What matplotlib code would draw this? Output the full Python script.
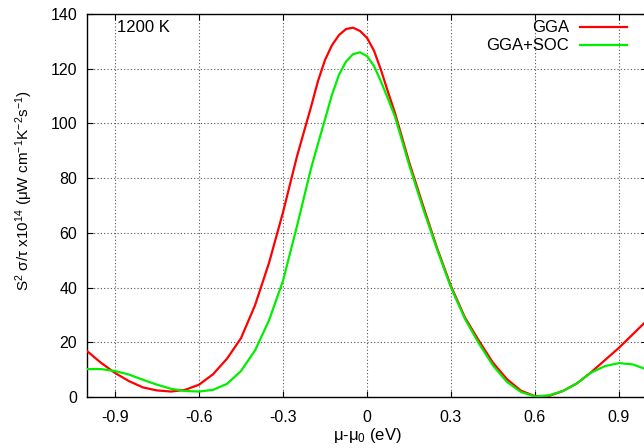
import matplotlib
matplotlib.use("Agg")
import matplotlib.pyplot as plt

plt.rcParams['font.family'] = ['Liberation Sans', 'DejaVu Sans']
plt.rcParams['mathtext.fontset'] = 'custom'
plt.rcParams['mathtext.rm'] = 'Liberation Sans'
plt.rcParams['mathtext.it'] = 'Liberation Sans:italic'
plt.rcParams['mathtext.bf'] = 'Liberation Sans:bold'

# chemical potential (eV)
mu = [-1.00, -0.95, -0.90, -0.85, -0.80, -0.75, -0.70, -0.65, -0.60, -0.55,
      -0.50, -0.45, -0.40, -0.35, -0.30, -0.25, -0.20, -0.175, -0.15, -0.125,
      -0.10, -0.075, -0.05, -0.025, 0.00, 0.025, 0.05, 0.075, 0.10, 0.15,
      0.20, 0.25, 0.30, 0.35, 0.40, 0.45, 0.50, 0.55, 0.60, 0.65,
      0.70, 0.75, 0.80, 0.85, 0.90, 0.95, 1.00]

gga = [16.8, 12.5, 8.8, 5.8, 3.5, 2.4, 2.0, 2.6, 4.5, 8.3,
       14.0, 21.5, 33.5, 49.0, 67.5, 88.0, 106.0, 115.5, 123.2, 128.6,
       132.3, 134.5, 135.0, 133.8, 131.3, 126.6, 119.5, 111.5, 103.8, 86.0,
       70.0, 54.5, 40.5, 29.0, 20.5, 12.5, 6.5, 2.3, 0.3, 0.4,
       2.2, 5.0, 9.0, 13.5, 18.0, 23.0, 28.0]

gga_soc = [10.2, 10.2, 9.5, 8.2, 6.3, 4.5, 3.0, 2.2, 2.0, 2.6,
           4.8, 9.5, 17.0, 28.0, 42.5, 62.5, 83.5, 92.6, 101.5, 110.5,
           117.8, 122.6, 125.3, 126.0, 124.6, 121.0, 115.3, 109.0, 102.5, 85.0,
           69.0, 54.0, 40.0, 28.5, 19.5, 11.5, 5.5, 1.8, 0.2, 0.6,
           2.2, 5.0, 8.9, 11.3, 12.4, 11.9, 10.0]

xticks = [-0.9, -0.6, -0.3, 0.0, 0.3, 0.6, 0.9]
xticklabels = ['-0.9', '-0.6', '-0.3', '0', '0.3', '0.6', '0.9']
yticks = [0, 20, 40, 60, 80, 100, 120, 140]

fs = 12
W, H = 644, 448
fig = plt.figure(figsize=(W/100, H/100), dpi=100)
ax = fig.add_axes([87/W, 1-397/H, 560/W, (397-14)/H])

ax.plot(mu, gga, color='#ff0000', lw=1.6, label='GGA', zorder=3)
ax.plot(mu, gga_soc, color='#00ee00', lw=1.6, label='GGA+SOC', zorder=3)

ax.set_xlim(-1.0, 1.0)
ax.set_ylim(0, 140)
ax.set_xticks(xticks)
ax.set_xticklabels(xticklabels)
ax.set_yticks(yticks)
ax.tick_params(direction='in', top=True, right=True, labelsize=11.5, length=4,
               width=0.8)
ax.tick_params(axis='x', pad=9.5)
ax.tick_params(axis='y', pad=7)
ax.grid(True, linestyle=(0, (1, 2)), color='#555555', linewidth=0.8)
for s in ax.spines.values():
    s.set_linewidth(1.0)
    s.set_color('black')

fig.text(367/W, 1-435/H, 'μ-μ$_{\\mathregular{0}}$ (eV)', fontsize=fs,
         ha='center', va='center')
fig.text(24/W, 1-191/H,
         'S$^{\\mathregular{2}}$ σ/τ x10$^{\\mathregular{14}}$ (μW cm$^{\\mathregular{-1}}$K$^{\\mathregular{-2}}$s$^{\\mathregular{-1}}$)',
         fontsize=11, rotation=90, ha='center', va='center')

ax.text(117/W, 1-27.5/H, '1200 K', transform=fig.transFigure, fontsize=fs,
        ha='left', va='center')

leg = ax.legend(loc='upper right', bbox_to_anchor=(627/W, 1-20.5/H),
                bbox_transform=fig.transFigure, frameon=False,
                markerfirst=False, fontsize=fs, handlelength=2.8,
                handletextpad=0.66, labelspacing=0.18, borderaxespad=0,
                borderpad=0)

fig.savefig('out.png', dpi=100)
